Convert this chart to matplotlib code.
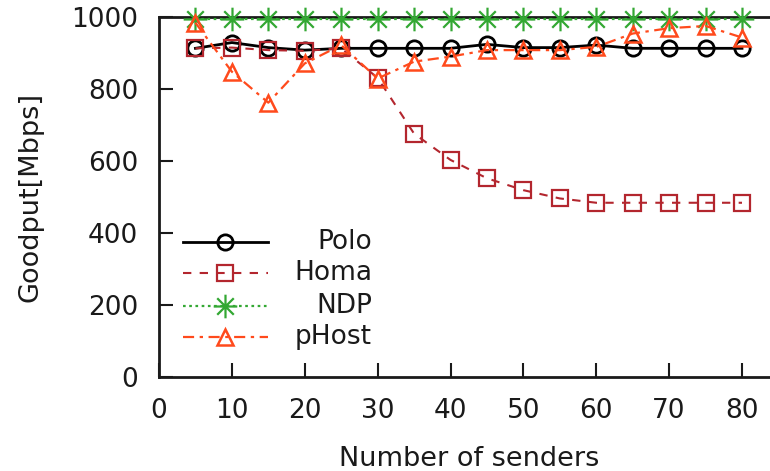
import matplotlib
matplotlib.use("Agg")
import matplotlib.pyplot as plt
from matplotlib.path import Path
from matplotlib.lines import Line2D

senders = [5, 10, 15, 20, 25, 30, 35, 40, 45, 50, 55, 60, 65, 70, 75, 80]
polo = [913, 929, 915, 908, 913, 913, 913, 913, 924, 915, 915, 922, 913, 913, 913, 913]
homa = [913, 915, 908, 906, 913, 831, 676, 603, 552, 519, 496, 484, 484, 484, 484, 484]
ndp = [995, 995, 995, 995, 995, 995, 995, 995, 995, 995, 995, 995, 995, 995, 995, 995]
phost = [984, 848, 762, 871, 922, 829, 876, 890, 908, 908, 908, 917, 954, 969, 975, 943]

series_names = ["Polo", "Homa", "NDP", "pHost"]
x_ticks = [0, 10, 20, 30, 40, 50, 60, 70, 80]
y_ticks = [0, 200, 400, 600, 800, 1000]

# eight-spoke asterisk marker (plus and cross combined)
asterisk = Path(
    [(-1, 0), (1, 0), (0, -1), (0, 1), (-0.7, -0.7), (0.7, 0.7), (-0.7, 0.7), (0.7, -0.7)],
    [Path.MOVETO, Path.LINETO] * 4,
)

styles = [
    dict(color="black", ls="-", lw=2.0, marker="o", ms=11, mfc="none", mew=2.0),
    dict(color="#b3262e", ls=(0, (4, 4)), lw=1.5, marker="s", ms=11, mfc="none", mew=1.6),
    dict(color="#33a833", ls=(0, (1.2, 1.6)), lw=1.6, marker=asterisk, ms=17, mfc="none", mew=1.6),
    dict(color="#ff4a1c", ls=(0, (5, 2.5, 1.5, 2.5)), lw=1.6, marker="^", ms=11, mfc="none", mew=1.8),
]

plt.rcParams["font.family"] = ["DejaVu Sans"]
fig = plt.figure(figsize=(7.7, 4.71), dpi=100)
W, H = 770, 471
x0_px, y0_px, ytop_px = 159, 377, 17
px_per_unit = (742 - 159) / 80.0
xmax = 85
ax = fig.add_axes([x0_px / W, (H - y0_px) / H, xmax * px_per_unit / W, (y0_px - ytop_px) / H])

for ys, st in zip([polo, homa, ndp, phost], styles):
    ax.plot(senders, ys, clip_on=False, zorder=3, **st)

ax.set_xlim(0, xmax)
ax.set_ylim(0, 1000)
ax.set_xticks(x_ticks)
ax.set_yticks(y_ticks)
ax.tick_params(direction="in", length=10, width=1.5, labelsize=19, colors="#1a1a1a")
ax.tick_params(axis="y", pad=15)
ax.tick_params(axis="x", pad=15)
for s in ["left", "bottom", "top"]:
    ax.spines[s].set_linewidth(2.0)
    ax.spines[s].set_color("#1a1a1a")
ax.spines["right"].set_visible(False)

ax.set_xlabel("Number of senders", fontsize=19.5, labelpad=16, color="#1a1a1a")
ax.set_ylabel("Goodput[Mbps]", fontsize=19.5, labelpad=20, color="#1a1a1a")

# legend drawn in figure pixel coordinates: sample line on the left, label right-aligned
leg_rows = [242, 273, 306, 337]
for name, st, yp in zip(series_names, styles, leg_rows):
    yf = (H - yp) / H
    fig.add_artist(Line2D([183 / W, 268 / W], [yf, yf], color=st["color"], ls=st["ls"], lw=st["lw"]))
    fig.add_artist(Line2D([225 / W], [yf], color=st["color"], marker=st["marker"], ms=st["ms"],
                          mfc="none", mew=st["mew"], ls="none"))
    fig.text(372 / W, yf, name, ha="right", va="center", fontsize=19, color="#1a1a1a")

fig.savefig("out.png", dpi=100)
